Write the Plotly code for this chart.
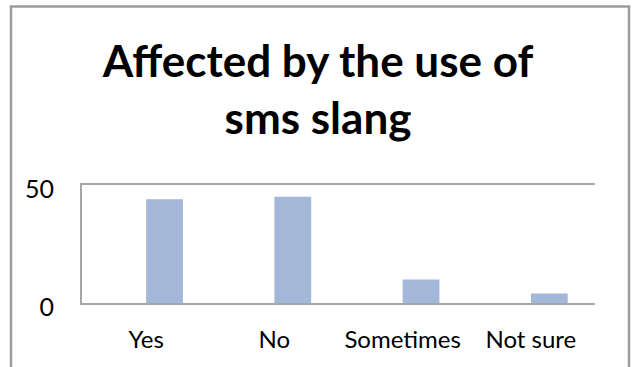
import plotly.graph_objects as go

# Survey responses: affected by the use of sms slang
categories = ["Yes", "No", "Sometimes", "Not sure"]
counts = [44, 45, 10, 4]
y_ticks = [0, 50]

W, H = 632, 367
L, R, T, B = 82, 37, 185, 64
plot_w = W - L - R
plot_h = H - T - B

frame_color = "#9c9c9c"
axis_color = "#a6a6a6"
bar_color = "#a3b7d9"

fig = go.Figure(
    go.Bar(
        x=categories,
        y=counts,
        width=0.287,
        offset=0,
        marker=dict(color=bar_color, line=dict(width=0)),
        hoverinfo="x+y",
    )
)


def px_to_paper_x(px):
    return (px - L) / plot_w


def px_to_paper_y(py):
    return (H - B - py) / plot_h


# outer chart-area frame (open at the bottom edge of the page)
fig.add_shape(
    type="path",
    xref="paper",
    yref="paper",
    path=(
        f"M {px_to_paper_x(11)} {px_to_paper_y(400)} "
        f"L {px_to_paper_x(11)} {px_to_paper_y(6.5)} "
        f"L {px_to_paper_x(629)} {px_to_paper_y(6.5)} "
        f"L {px_to_paper_x(629)} {px_to_paper_y(400)}"
    ),
    line=dict(color=frame_color, width=2.5),
    layer="above",
)

fig.update_layout(
    width=W,
    height=H,
    margin=dict(l=L, r=R, t=T, b=B, pad=0),
    paper_bgcolor="white",
    plot_bgcolor="white",
    showlegend=False,
    title=dict(
        text="<b>Affected by the use of<br>sms slang</b>",
        font=dict(family="Lato", size=44, color="black"),
        x=px_to_paper_x(318),
        xref="paper",
        xanchor="center",
        y=1 - 77 / H,
        yref="container",
        yanchor="top",
    ),
    font=dict(family="Lato", size=24, color="black"),
)

fig.update_xaxes(
    type="category",
    range=[-0.5, len(categories) - 0.5],
    showline=True,
    mirror=True,
    linecolor=axis_color,
    linewidth=2,
    showgrid=False,
    ticks="",
    ticklabelstandoff=14,
    tickfont=dict(family="Lato", size=24, color="black"),
)

fig.update_yaxes(
    range=[0, 50],
    tickvals=y_ticks,
    ticktext=[str(v) for v in y_ticks],
    showline=True,
    linecolor=axis_color,
    linewidth=2,
    showgrid=False,
    zeroline=False,
    ticks="",
    ticklabelstandoff=21,
    ticklabelshift=4,
    tickfont=dict(family="Lato", size=25, color="black"),
)

fig.write_html("out.html")
